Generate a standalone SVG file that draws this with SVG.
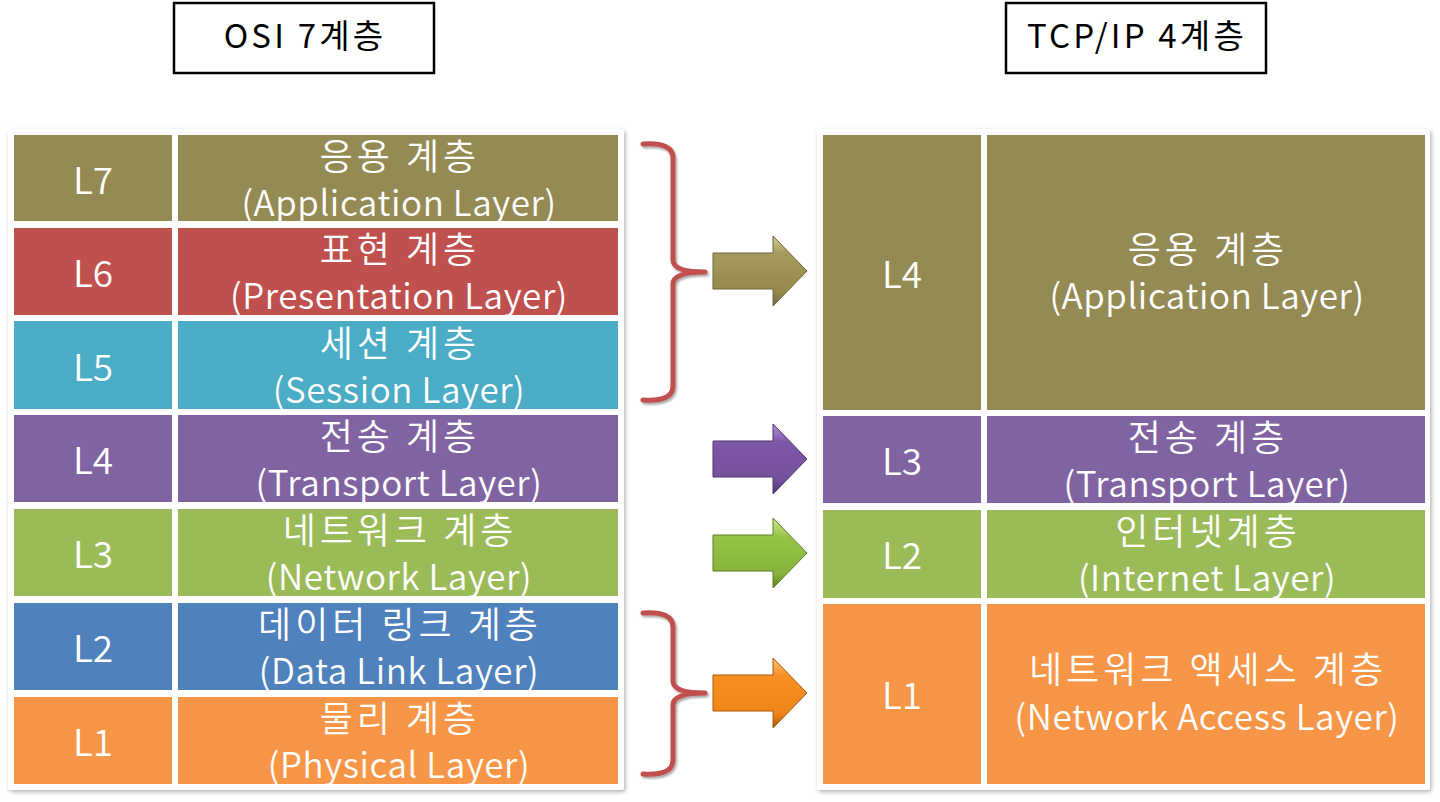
<svg xmlns="http://www.w3.org/2000/svg" width="1440" height="802" viewBox="0 0 1440 802">
<style>
  .t { font-family: "Noto Sans CJK KR", "Noto Sans", sans-serif; fill: #fff; text-anchor: middle; font-weight: 350; }
  .ko { font-size: 36px; letter-spacing: 4px; }
  .en { font-size: 35px; letter-spacing: 0.6px; }
  .lab { font-size: 37px; }
  .title { font-family: "Noto Sans CJK KR", "Noto Sans", sans-serif; font-size: 33px; letter-spacing: 3.2px; fill: #000; text-anchor: middle; }
  .box { fill: #fff; stroke: #000; stroke-width: 2.5; }
  .panel { fill: #fff; filter: url(#sh); }
  .brace { fill: none; stroke: #c0504d; stroke-width: 5; stroke-linecap: round; stroke-linejoin: round; filter: url(#sh2); }
  .olive { fill: #948a54; } .red { fill: #c0504d; } .teal { fill: #4bacc6; } .purple { fill: #8064a2; }
  .green { fill: #9bbb59; } .blue { fill: #4f81bd; } .orange { fill: #f79646; }
</style>
<defs>
  <filter id="sh" x="-5%" y="-5%" width="110%" height="110%">
    <feDropShadow dx="1.5" dy="2" stdDeviation="2" flood-color="#000" flood-opacity="0.3"/>
  </filter>
  <filter id="sh2" x="-20%" y="-20%" width="140%" height="140%">
    <feDropShadow dx="1.5" dy="2" stdDeviation="1.2" flood-color="#000" flood-opacity="0.35"/>
  </filter>
  <linearGradient id="gOl" x1="0" y1="0" x2="0" y2="1"><stop offset="0" stop-color="#d6cc8e"/><stop offset="0.25" stop-color="#a59a5e"/><stop offset="0.8" stop-color="#948a4e"/><stop offset="1" stop-color="#6e6638"/></linearGradient>
  <linearGradient id="gPu" x1="0" y1="0" x2="0" y2="1"><stop offset="0" stop-color="#b092d8"/><stop offset="0.25" stop-color="#7e58a8"/><stop offset="0.8" stop-color="#73509c"/><stop offset="1" stop-color="#4f3470"/></linearGradient>
  <linearGradient id="gGr" x1="0" y1="0" x2="0" y2="1"><stop offset="0" stop-color="#cfee98"/><stop offset="0.25" stop-color="#98c447"/><stop offset="0.8" stop-color="#88b33c"/><stop offset="1" stop-color="#5c7d26"/></linearGradient>
  <linearGradient id="gOr" x1="0" y1="0" x2="0" y2="1"><stop offset="0" stop-color="#ffc47a"/><stop offset="0.25" stop-color="#f78f24"/><stop offset="0.8" stop-color="#ee8518"/><stop offset="1" stop-color="#a85a0c"/></linearGradient>
  <path id="arrow" d="M0,-18 L60,-18 L60,-35 L94,0 L60,35 L60,18 L0,18 Z"/>
  <clipPath id="lc">
    <rect x="178" y="135" width="440" height="86"/><rect x="178" y="228" width="440" height="87"/>
    <rect x="178" y="321" width="440" height="88"/><rect x="178" y="415" width="440" height="87"/>
    <rect x="178" y="509" width="440" height="87"/><rect x="178" y="603" width="440" height="87"/>
    <rect x="178" y="697" width="440" height="87"/>
  </clipPath>
</defs>
<rect width="1440" height="802" fill="#fff"/>

<g id="title-osi">
  <rect class="box" x="174" y="3" width="260" height="70"/>
  <text class="title" x="305" y="48">OSI 7계층</text>
</g>
<g id="title-tcpip">
  <rect class="box" x="1006" y="3" width="260" height="70"/>
  <text class="title" x="1137" y="48">TCP/IP 4계층</text>
</g>

<rect class="panel" x="8" y="129" width="616" height="661" rx="3"/>
<rect class="panel" x="817" y="129" width="613" height="661" rx="3"/>

<g id="osi-l7">
  <rect class="olive" x="14" y="135" width="158" height="86"/>
  <rect class="olive" x="178" y="135" width="440" height="86"/>
  <text class="t lab" x="93" y="194">L7</text>
  <g clip-path="url(#lc)"><text class="t ko" x="400" y="170">응용 계층</text><text class="t en" x="399" y="216">(Application Layer)</text></g>
</g>
<g id="osi-l6">
  <rect class="red" x="14" y="228" width="158" height="87"/>
  <rect class="red" x="178" y="228" width="440" height="87"/>
  <text class="t lab" x="93" y="287">L6</text>
  <g clip-path="url(#lc)"><text class="t ko" x="400" y="263">표현 계층</text><text class="t en" x="399" y="309">(Presentation Layer)</text></g>
</g>
<g id="osi-l5">
  <rect class="teal" x="14" y="321" width="158" height="88"/>
  <rect class="teal" x="178" y="321" width="440" height="88"/>
  <text class="t lab" x="93" y="381">L5</text>
  <g clip-path="url(#lc)"><text class="t ko" x="400" y="357">세션 계층</text><text class="t en" x="399" y="403">(Session Layer)</text></g>
</g>
<g id="osi-l4">
  <rect class="purple" x="14" y="415" width="158" height="87"/>
  <rect class="purple" x="178" y="415" width="440" height="87"/>
  <text class="t lab" x="93" y="474">L4</text>
  <g clip-path="url(#lc)"><text class="t ko" x="400" y="450">전송 계층</text><text class="t en" x="399" y="496">(Transport Layer)</text></g>
</g>
<g id="osi-l3">
  <rect class="green" x="14" y="509" width="158" height="87"/>
  <rect class="green" x="178" y="509" width="440" height="87"/>
  <text class="t lab" x="93" y="568">L3</text>
  <g clip-path="url(#lc)"><text class="t ko" x="400" y="544">네트워크 계층</text><text class="t en" x="399" y="590">(Network Layer)</text></g>
</g>
<g id="osi-l2">
  <rect class="blue" x="14" y="603" width="158" height="87"/>
  <rect class="blue" x="178" y="603" width="440" height="87"/>
  <text class="t lab" x="93" y="662">L2</text>
  <g clip-path="url(#lc)"><text class="t ko" x="400" y="638">데이터 링크 계층</text><text class="t en" x="399" y="684">(Data Link Layer)</text></g>
</g>
<g id="osi-l1">
  <rect class="orange" x="14" y="697" width="158" height="87"/>
  <rect class="orange" x="178" y="697" width="440" height="87"/>
  <text class="t lab" x="93" y="756">L1</text>
  <g clip-path="url(#lc)"><text class="t ko" x="400" y="732">물리 계층</text><text class="t en" x="399" y="778">(Physical Layer)</text></g>
</g>

<g id="tcp-l4">
  <rect class="olive" x="823" y="135" width="158" height="275"/>
  <rect class="olive" x="987" y="135" width="438" height="275"/>
  <text class="t lab" x="902" y="288">L4</text>
  <text class="t ko" x="1208" y="263">응용 계층</text>
  <text class="t en" x="1207" y="309">(Application Layer)</text>
</g>
<g id="tcp-l3">
  <rect class="purple" x="823" y="416" width="158" height="87"/>
  <rect class="purple" x="987" y="416" width="438" height="87"/>
  <text class="t lab" x="902" y="475">L3</text>
  <text class="t ko" x="1208" y="451">전송 계층</text>
  <text class="t en" x="1207" y="497">(Transport Layer)</text>
</g>
<g id="tcp-l2">
  <rect class="green" x="823" y="510" width="158" height="88"/>
  <rect class="green" x="987" y="510" width="438" height="88"/>
  <text class="t lab" x="902" y="569">L2</text>
  <text class="t ko" x="1208" y="545">인터넷계층</text>
  <text class="t en" x="1207" y="591">(Internet Layer)</text>
</g>
<g id="tcp-l1">
  <rect class="orange" x="823" y="604" width="158" height="180"/>
  <rect class="orange" x="987" y="604" width="438" height="180"/>
  <text class="t lab" x="902" y="709">L1</text>
  <text class="t ko" x="1208" y="683">네트워크 액세스 계층</text>
  <text class="t en" x="1207" y="730">(Network Access Layer)</text>
</g>

<g id="connectors">
  <path class="brace" d="M643,144 Q673,142 673,158 L673,260 Q673,272 705,272 Q673,272 673,284 L673,386 Q673,402 643,400"/>
  <path class="brace" d="M643,613 Q673,611 673,627 L673,681 Q673,693 705,693 Q673,693 673,705 L673,760 Q673,776 643,774"/>
  <use href="#arrow" x="713" y="271" fill="url(#gOl)" stroke="#6e6638" stroke-width="1"/>
  <use href="#arrow" x="713" y="459" fill="url(#gPu)" stroke="#4f3470" stroke-width="1"/>
  <use href="#arrow" x="713" y="553" fill="url(#gGr)" stroke="#5c7d26" stroke-width="1"/>
  <use href="#arrow" x="713" y="693" fill="url(#gOr)" stroke="#a85a0c" stroke-width="1"/>
</g>
</svg>
